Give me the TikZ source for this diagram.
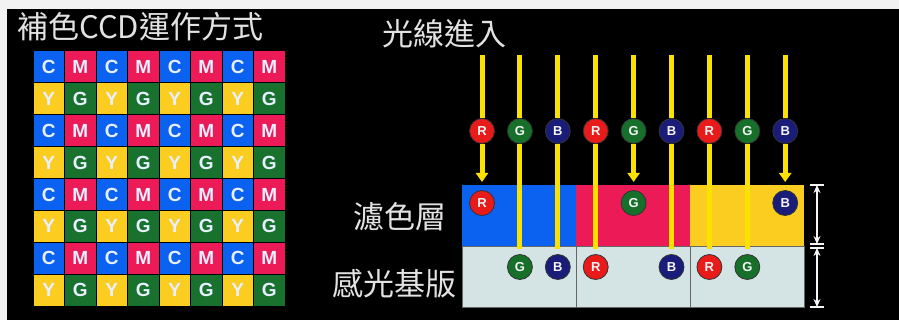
\documentclass[tikz,border=0pt]{standalone}
\usepackage{fontspec}
\newfontfamily\cjk{Noto Sans CJK TC}
\newfontfamily\lat{Liberation Sans}
\usetikzlibrary{arrows.meta}
\definecolor{cC}{RGB}{12,98,240}
\definecolor{cM}{RGB}{236,26,86}
\definecolor{cY}{RGB}{250,205,32}
\definecolor{cG}{RGB}{24,114,46}
\definecolor{letter}{RGB}{232,240,255}
\definecolor{txt}{RGB}{226,226,226}
\definecolor{ray}{RGB}{250,226,0}
\definecolor{bR}{RGB}{232,26,26}
\definecolor{bG}{RGB}{22,112,42}
\definecolor{bB}{RGB}{26,28,122}
\definecolor{sub}{RGB}{212,228,228}
\definecolor{page}{RGB}{242,242,242}
\tikzset{
  lbl/.style={inner sep=0, text=txt, font=\cjk\fontsize{31}{31}\selectfont},
  cell/.style={rectangle, minimum width=30.5, minimum height=30.9, inner sep=0,
    text=letter, font=\lat\bfseries\fontsize{19}{19}\selectfont},
  cellC/.style={cell, fill=cC},
  cellM/.style={cell, fill=cM},
  cellY/.style={cell, fill=cY},
  cellG/.style={cell, fill=cG},
  ball/.style={circle, minimum size=25, inner sep=0, draw=black!80, line width=0.8,
    text=white!92!gray, font=\lat\bfseries\fontsize{13}{13}\selectfont},
  ballR/.style={ball, fill=bR},
  ballG/.style={ball, fill=bG},
  ballB/.style={ball, fill=bB},
  rayline/.style={draw=ray, line width=5},
  rayarrow/.style={rayline, -{Triangle[width=12,length=9]}},
  layer/.style={rectangle, minimum width=114, minimum height=61, inner sep=0},
  bracket/.style={draw=white!92!gray, line width=1.8, {Stealth[length=8,width=7]}-{Stealth[length=8,width=7]}},
  tick/.style={draw=white!92!gray, line width=1.6}
}
\begin{document}
\begin{tikzpicture}[x=1pt,y=-1pt]
\useasboundingbox (0,0) rectangle (899,320);
\fill[page] (0,0) rectangle (899,320);
\fill[black] (7,9) rectangle (899,320);

% titles and labels
\node[lbl, anchor=base west] (title) at (17,39) {補色CCD運作方式};
\node[lbl, anchor=base west] (light) at (382,46) {光線進入};
\node[lbl, anchor=base east] (filterlbl) at (447,229) {濾色層};
\node[lbl, anchor=base east] (sublbl) at (457,295) {感光基版};

% colour grid
\foreach \r in {0,2,4,6}{
  \foreach \c/\L in {0/C,1/M,2/C,3/M,4/C,5/M,6/C,7/M}{
    \node[cell\L] (g-\r-\c) at ({33+31.5*(\c+0.5)},{51+31.9*(\r+0.5)}) {\L};
  }
}
\foreach \r in {1,3,5,7}{
  \foreach \c/\L in {0/Y,1/G,2/Y,3/G,4/Y,5/G,6/Y,7/G}{
    \node[cell\L] (g-\r-\c) at ({33+31.5*(\c+0.5)},{51+31.9*(\r+0.5)}) {\L};
  }
}

% filter layer
\node[layer, fill=cC] (fb) at (519,215.5) {};
\node[layer, fill=cM] (fm) at (633,215.5) {};
\node[layer, fill=cY] (fy) at (747,215.5) {};
% substrate
\node[layer, fill=sub, draw=black!60, line width=0.6] (s1) at (519,276.5) {};
\node[layer, fill=sub, draw=black!60, line width=0.6] (s2) at (633,276.5) {};
\node[layer, fill=sub, draw=black!60, line width=0.6] (s3) at (747,276.5) {};

% rays
\foreach \i/\L in {1/R,2/G,3/B,4/R,5/G,6/B,7/R,8/G,9/B}{
  \coordinate (t\i) at ({482+37.9*(\i-1)},55);
  \coordinate (ea\i) at ({482+37.9*(\i-1)},182);
  \coordinate (ep\i) at ({482+37.9*(\i-1)},249);
  \node[ball\L] (u\i) at ({482+37.9*(\i-1)},131) {\L};
}
\foreach \i/\kind in {1/a,2/p,3/p,4/p,5/a,6/p,7/p,8/p,9/a}{
  \draw[rayline] (t\i) -- (u\i.north);
  \if a\kind
    \draw[rayarrow] (u\i.south) -- (ea\i);
  \else
    \draw[rayline] (u\i.south) -- (ep\i);
  \fi
}
% absorbed in filter
\node[ballR] (f1) at (482,203) {R};
\node[ballG] (f5) at (633.6,203) {G};
\node[ballB] (f9) at (785.2,203) {B};
% reaching substrate
\node[ballG] (p2) at (519.9,267) {G};
\node[ballB] (p3) at (557.8,267) {B};
\node[ballR] (p4) at (595.7,267) {R};
\node[ballB] (p6) at (671.5,267) {B};
\node[ballR] (p7) at (709.4,267) {R};
\node[ballG] (p8) at (747.3,267) {G};

% thickness brackets
\coordinate (k1) at (817,185);
\coordinate (k2) at (817,244);
\coordinate (k3) at (817,248);
\coordinate (k4) at (817,307);
\draw[bracket] (k1) -- (k2);
\draw[bracket] (k3) -- (k4);
\foreach \k in {k1,k2,k3,k4}{
  \draw[tick] ([xshift=-7]\k) -- ([xshift=7]\k);
}
\end{tikzpicture}
\end{document}
